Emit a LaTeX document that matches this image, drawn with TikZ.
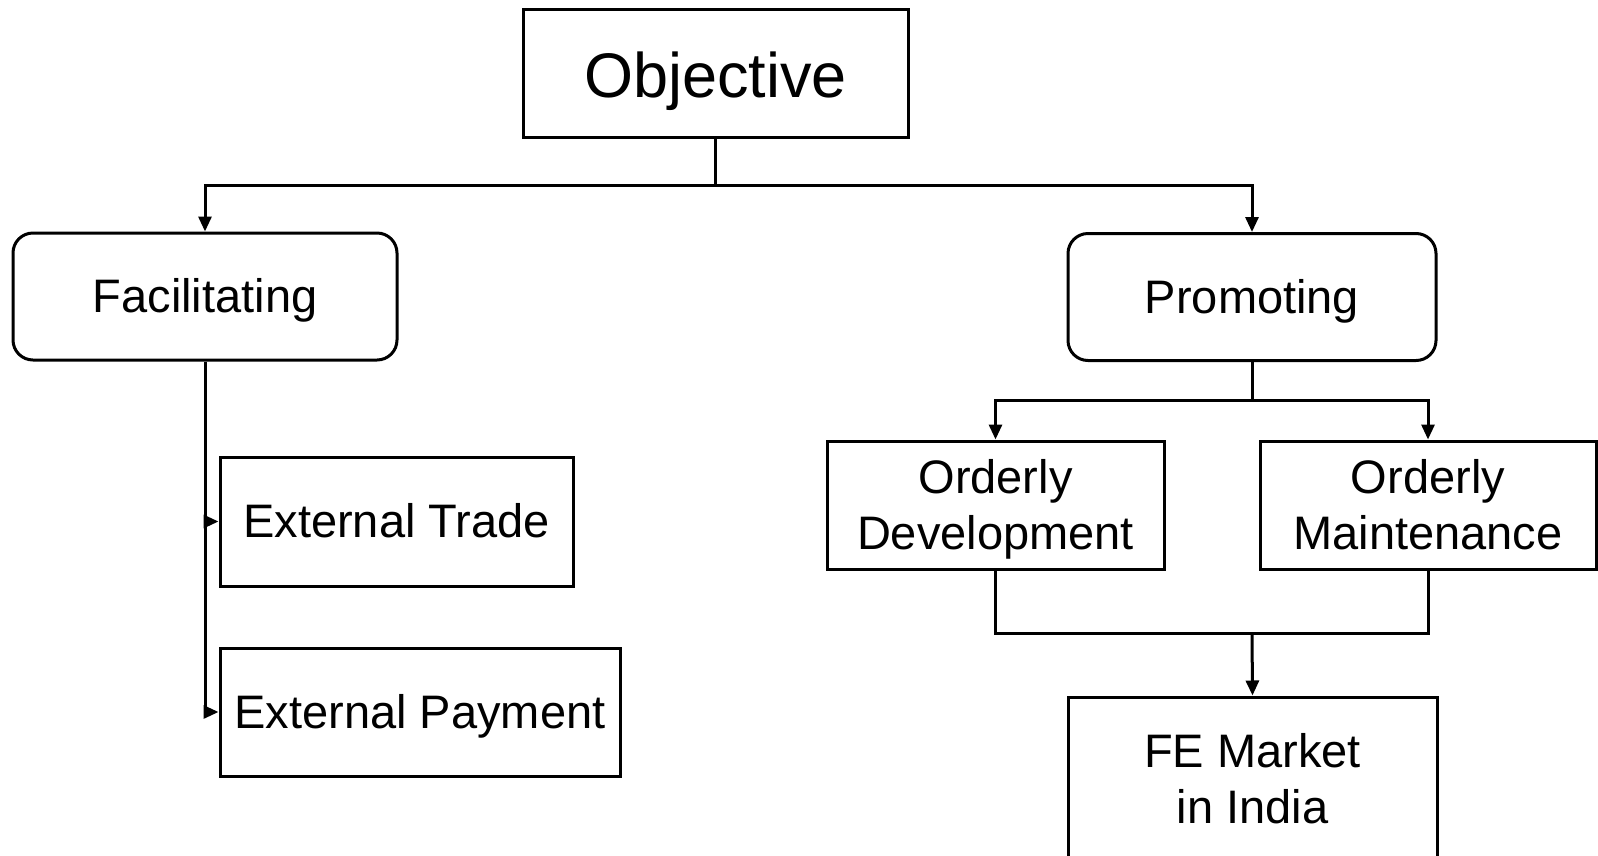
\documentclass[tikz,border=0pt]{standalone}
\usepackage{fontspec}
\setmainfont{Liberation Sans}
\usetikzlibrary{arrows.meta}
\newcommand\dstrut{\rule[-0.212em]{0pt}{1.117em}}
\newcommand\ostrut{\rule[-0.132em]{0pt}{1.117em}}
\begin{document}
\begin{tikzpicture}[x=1pt,y=-1pt,
  box/.style={draw, line width=3pt, align=center, inner sep=0pt, font=\fontsize{47}{56}\selectfont},
  rbox/.style={box, rounded corners=20pt},
  arr/.style={-{Triangle[length=15pt,width=13pt]}},
  link/.style={line width=3pt}]
\useasboundingbox (0,0) rectangle (1598,855);
\clip (0,0) rectangle (1598,855);
\fill[white] (0,0) rectangle (1598,855);
\node[box, minimum width=385pt, minimum height=128pt, font=\fontsize{63}{75}\selectfont] (obj) at (715.5,73) {\ostrut Objective};
\node[rbox, minimum width=384pt, minimum height=127pt] (fac) at (205,296.5) {\dstrut Facilitating};
\node[rbox, minimum width=368pt, minimum height=127pt] (prom) at (1252,297) {\dstrut Promoting};
\node[box, minimum width=353pt, minimum height=129pt] (trade) at (396.5,521.5) {\dstrut External Trade};
\node[box, minimum width=400pt, minimum height=128pt] (pay) at (420,712) {\dstrut External Payment};
\node[box, minimum width=337pt, minimum height=128pt] (dev) at (995.5,505) {\dstrut Orderly\\\dstrut Development};
\node[box, minimum width=336pt, minimum height=128pt] (maint) at (1428,505) {\dstrut Orderly\\\dstrut Maintenance};
\node[box, minimum width=369pt, minimum height=164pt] (fe) at (1252.5,779) {\dstrut FE Market\\\dstrut in India};
\coordinate (top) at (715.5,185);
\coordinate (pj) at (1252,400);
\coordinate (mj) at (1252,633);
\draw[link,arr] (obj.south) -- (top) -| (fac.north);
\draw[link,arr] (top) -| (prom.north);
\draw[link,arr] (fac.south) |- (trade.west);
\draw[link,arr] (fac.south) |- (pay.west);
\draw[link,arr] (prom.south) -- (pj) -| (dev.north);
\draw[link,arr] (pj) -| (maint.north);
\draw[link] (dev.south) |- (mj);
\draw[link] (maint.south) |- (mj);
\draw[link,arr] (mj) -- (fe.north);
\end{tikzpicture}
\end{document}
